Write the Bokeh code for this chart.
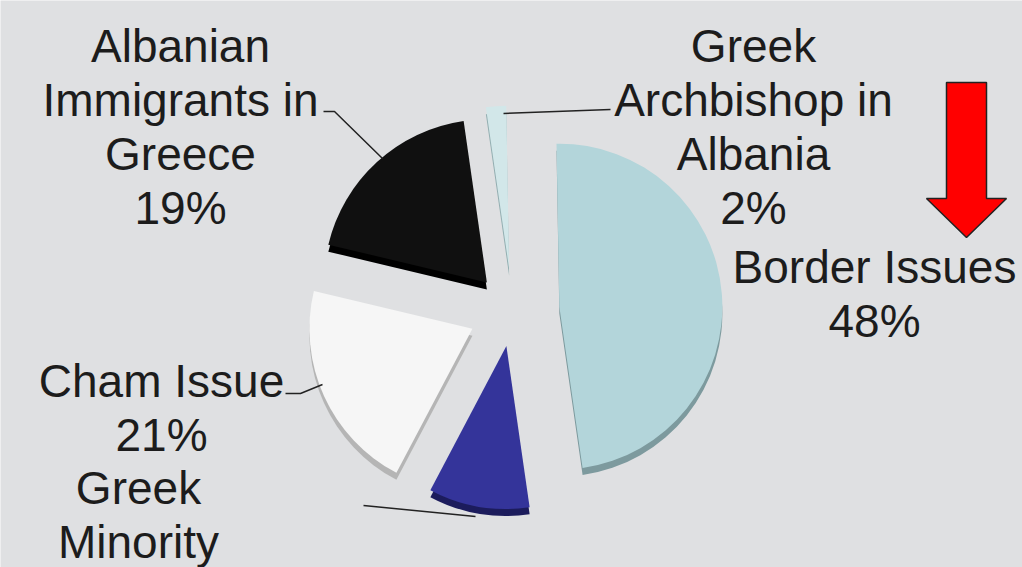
import math
from bokeh.plotting import figure
from bokeh.models import Range1d, ColumnDataSource
from bokeh.core.properties import value
from bokeh.embed import file_html
from bokeh.resources import INLINE

# ---- data ----
categories = ["Border Issues", "Greek Minority", "Cham Issue",
              "Albanian Immigrants in Greece", "Greek Archbishop in Albania"]
shares = [48, 10, 21, 19, 2]
label_lines = [
    ["Border Issues", "48%"],
    ["Greek", "Minority"],
    ["Cham Issue", "21%"],
    ["Albanian", "Immigrants in", "Greece", "19%"],
    ["Greek", "Archbishop in", "Albania", "2%"],
]

# ---- style / layout ----
W, H = 1022, 567
BG = "#dfe0e2"
top_colors = ["#b3d5da", "#34349a", "#f6f6f6", "#101010", "#d2e7e9"]
side_colors = ["#7d9a9e", "#1c1c5c", "#b5b5b5", "#000000", "#93aeb1"]
explode = [47, 36, 44, 38, 42]
center = (512, H - 310)
R = 163
DEPTH = 7
start_deg = 91.0

label_pos = [(874, 266), (138, 487), (161, 380), (180, 45), (753, 45)]
LINE_SP = 54

p = figure(width=W, height=H, x_range=Range1d(0, W), y_range=Range1d(0, H),
           output_backend="svg", toolbar_location=None, min_border=0)
p.axis.visible = False
p.grid.visible = False
p.outline_line_color = None
p.background_fill_color = BG
p.border_fill_color = BG
p.min_border_left = p.min_border_right = p.min_border_top = p.min_border_bottom = 0

total = float(sum(shares))
xs, ys, sa, ea = [], [], [], []
a = start_deg
for s, d in zip(shares, explode):
    span = 360.0 * s / total
    a_end = a - span
    mid = math.radians((a + a_end) / 2)
    xs.append(center[0] + d * math.cos(mid))
    ys.append(center[1] + d * math.sin(mid))
    sa.append(math.radians(a_end))
    ea.append(math.radians(a))
    a = a_end

side = ColumnDataSource(dict(x=xs, y=[y - DEPTH for y in ys], s=sa, e=ea, c=side_colors))
top = ColumnDataSource(dict(x=xs, y=ys, s=sa, e=ea, c=top_colors))
p.wedge(x="x", y="y", radius=R, start_angle="s", end_angle="e",
        fill_color="c", line_color=None, source=side)
p.wedge(x="x", y="y", radius=R, start_angle="s", end_angle="e",
        fill_color="c", line_color=None, source=top)

# leader lines (screen coords -> data)
leaders = [
    [(323, 111), (334, 111), (382, 158)],
    [(503, 113), (610, 109)],
    [(285, 393), (300, 393), (322, 384)],
    [(363, 505), (475, 516)],
]
for pts in leaders:
    p.line([q[0] for q in pts], [H - q[1] for q in pts], line_color="#222222", line_width=1.5)

# labels
tx, ty, tt = [], [], []
for lines, (lx, ly) in zip(label_lines, label_pos):
    for i, t in enumerate(lines):
        tx.append(lx)
        ty.append(H - (ly + i * LINE_SP))
        tt.append(t)
p.text(x=tx, y=ty, text=tt, text_align="center", text_baseline="middle",
       text_font=value("Liberation Sans"), text_font_size="46px", text_color="#1c1c1c")

# red arrow
arrow = [(946, 82), (986, 82), (986, 198), (1006, 198), (966, 237), (926, 198), (946, 198)]
p.patch([q[0] for q in arrow], [H - q[1] for q in arrow], fill_color="#ff0000",
        line_color="#222222", line_width=1.5)

open("out.html", "w").write(file_html(p, INLINE))
